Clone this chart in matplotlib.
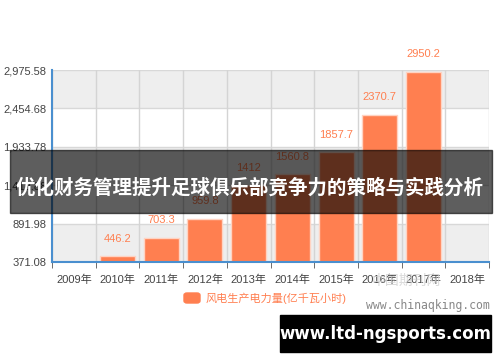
import numpy as np
import matplotlib.pyplot as plt
from matplotlib.patches import Rectangle, FancyBboxPatch

plt.rcParams['font.family'] = ['Liberation Sans', 'Noto Sans CJK SC', 'DejaVu Sans']

years = ['2009年', '2010年', '2011年', '2012年', '2013年', '2014年',
         '2015年', '2016年', '2017年', '2018年']
values = [np.nan, 446.2, 703.3, 959.8, 1412, 1560.8, 1857.7, 2370.7, 2950.2, np.nan]
value_labels = ['', '446.2', '703.3', '959.8', '1412', '1560.8', '1857.7', '2370.7', '2950.2', '']
yticks = [371.08, 891.98, 1412.88, 1933.78, 2454.68, 2975.58]
series_name = '风电生产电力量(亿千瓦小时)'
banner_text = '优化财务管理提升足球俱乐部竞争力的策略与实践分析'

coral = '#FF7F50'
blue = '#4a8fcf'

fig = plt.figure(figsize=(5, 3.62), dpi=100)
ax = fig.add_axes([0.104, 0.2762, 0.874, 0.5304])

x = np.arange(len(years))
ax.set_xlim(-0.5, len(years) - 0.5)
ax.set_ylim(yticks[0], yticks[-1])

# alternating bands
for i in range(len(yticks) - 1):
    if (len(yticks) - 2 - i) % 2 == 0:
        ax.axhspan(yticks[i], yticks[i + 1], color='#eeeeee', zorder=0, lw=0)
for yv in yticks:
    ax.axhline(yv, color='#d8d8d8', lw=1, zorder=1)
for b in np.arange(-0.5, len(years), 1.0):
    ax.axvline(b, color='#d4d4d4', lw=1, zorder=1)

heights = np.nan_to_num(np.array(values) - yticks[0])
ax.bar(x, heights, bottom=yticks[0], width=0.8, color=coral,
       edgecolor='#ffd3c2', lw=1, zorder=2)
for xi, v, lab in zip(x, values, value_labels):
    if lab:
        ax.annotate(lab, (xi, v), xytext=(0, 9), textcoords='offset points',
                    ha='center', va='bottom', color=coral, fontsize=8, zorder=3)

ax.set_xticks(x)
ax.set_xticklabels(years, fontsize=8, color='#444444')
ax.set_xticks(np.arange(-0.5, len(years), 1.0), minor=True)
ax.tick_params(axis='x', which='major', length=0, pad=9)
ax.tick_params(axis='x', which='minor', length=4, color='#555555')
ax.set_yticks(yticks)
ax.set_yticklabels([f'{v:,.2f}' for v in yticks], fontsize=8, color='#444444')
ax.tick_params(axis='y', length=0, pad=4)

for s in ['top', 'right']:
    ax.spines[s].set_visible(False)
ax.spines['left'].set_color(blue)
ax.spines['bottom'].set_color(blue)
ax.spines['left'].set_linewidth(1.5)
ax.spines['bottom'].set_linewidth(1.5)

# legend
fig.patches.append(FancyBboxPatch((184 / 500, 1 - 303 / 362), 16 / 500, 10 / 362,
                                  boxstyle='round,pad=0,rounding_size=0.006',
                                  transform=fig.transFigure, color=coral))
fig.text(206 / 500, 1 - 298 / 362, series_name, color=coral, fontsize=8,
         va='center', ha='left')

# watermark
fig.text(372 / 500, 1 - 281 / 362, '中国期刊网', color='#d0d0d0', fontsize=10,
         va='center', ha='left', family=['Noto Sans CJK SC'], alpha=0.8)
fig.text(366 / 500, 1 - 305 / 362, 'www.chinaqking.com', color='#888888', fontsize=8.3,
         va='center', ha='left', family=['DejaVu Sans Mono'])

# banner overlay
fig.patches.append(Rectangle((10 / 500, 1 - 213 / 362), 482 / 500, 63 / 362,
                             transform=fig.transFigure, color='black', alpha=0.63, zorder=5))
fig.text(250 / 500, 1 - 188 / 362, banner_text, color='white', fontsize=14,
         fontweight='bold', ha='center', va='center', zorder=6,
         family=['Noto Sans CJK SC'])

# site box
fig.patches.append(Rectangle((280 / 500, 1 - 352 / 362), 211 / 500, 37 / 362,
                             transform=fig.transFigure, color='black', zorder=5))
fig.text(385 / 500, 1 - 334 / 362, 'www.ltd-ngsports.com', color='white', fontsize=12,
         fontweight='bold', ha='center', va='center', zorder=6,
         family=['DejaVu Sans'])

fig.savefig('out.png', dpi=100)
